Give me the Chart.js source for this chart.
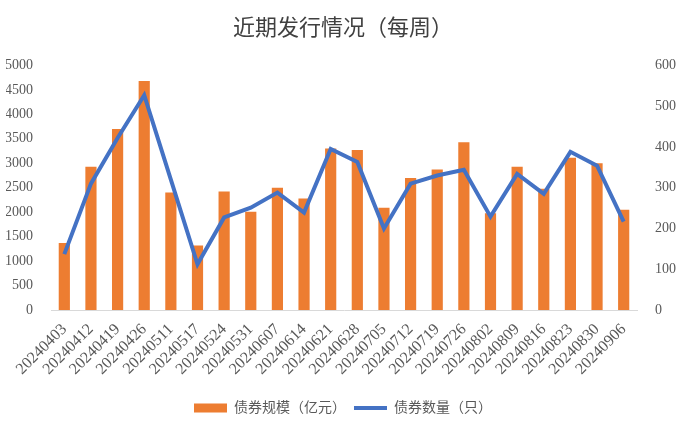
<!DOCTYPE html>
<html>
<head>
<meta charset="utf-8">
<script src="https://cdn.jsdelivr.net/npm/chart.js@4.4.1/dist/chart.umd.min.js"></script>
<style>
  html, body { margin: 0; padding: 0; background: #fff; }
  #wrap { width: 686px; height: 435px; }
</style>
</head>
<body>
<div id="wrap"><canvas id="mycanvas" width="686" height="435"></canvas></div>
<script>
var weeks = ["20240403","20240412","20240419","20240426","20240511","20240517","20240524","20240531",
  "20240607","20240614","20240621","20240628","20240705","20240712","20240719","20240726",
  "20240802","20240809","20240816","20240823","20240830","20240906"];
// 债券规模（亿元）
var scale = [1370, 2930, 3700, 4680, 2400, 1320, 2420, 2010, 2500, 2280, 3300,
  3270, 2090, 2700, 2870, 3430, 1980, 2930, 2480, 3110, 3000, 2050];
// 债券数量（只）
var count = [137, 310, 422, 527, 320, 112, 227, 251, 288, 239, 395,
  363, 200, 310, 330, 344, 229, 334, 285, 388, 354, 217];

var serif = "'Liberation Serif', 'Times New Roman', 'Noto Sans CJK SC', serif";
var grey = "#595959";

var ctx = document.getElementById("mycanvas");
var chart = new Chart(ctx, {
  type: 'bar',
  data: {
    labels: weeks,
    datasets: [
      {
        label: "债券规模（亿元）",
        data: scale,
        backgroundColor: "#ED7D31",
        borderWidth: 0,
        barPercentage: 0.42,
        categoryPercentage: 1.0,
        pointStyle: 'rect',
        yAxisID: 'y',
        order: 2
      },
      {
        type: 'line',
        label: "债券数量（只）",
        data: count,
        borderColor: "#4472C4",
        backgroundColor: "#4472C4",
        borderWidth: 4,
        pointRadius: 0,
        tension: 0,
        fill: false,
        pointStyle: 'line',
        yAxisID: 'y1',
        order: 1
      }
    ]
  },
  options: {
    responsive: false,
    animation: false,
    layout: { padding: { left: 6, right: 6, top: 6, bottom: 10 } },
    plugins: {
      title: {
        display: true,
        text: "近期发行情况（每周）",
        color: "#404040",
        font: { family: serif, size: 22, weight: 'normal' },
        padding: { top: 10, bottom: 23 }
      },
      legend: {
        position: 'bottom',
        labels: {
          usePointStyle: true,
          pointStyleWidth: 33,
          boxWidth: 33,
          boxHeight: 9,
          color: grey,
          padding: 8,
          font: { family: serif, size: 14 },
          sort: function(a, b) { return a.datasetIndex - b.datasetIndex; }
        }
      },
      tooltip: { enabled: false }
    },
    scales: {
      x: {
        grid: { display: false },
        border: { color: "#d9d9d9", width: 1 },
        afterFit: function(s) { s.height = 83; },
        ticks: {
          color: grey,
          font: { family: serif, size: 16 },
          minRotation: 45,
          maxRotation: 45,
          autoSkip: false,
          padding: 2
        }
      },
      y: {
        position: 'left',
        min: 0,
        max: 5000,
        grid: { display: false },
        border: { display: false },
        afterFit: function(s) { s.width = 45; },
        ticks: {
          stepSize: 500, color: grey, font: { family: serif, size: 14 }, padding: 10,
          callback: function(v) { return String(v); }
        }
      },
      y1: {
        position: 'right',
        min: 0,
        max: 600,
        grid: { display: false },
        border: { display: false },
        afterFit: function(s) { s.width = 43; },
        ticks: {
          stepSize: 100, color: grey, font: { family: serif, size: 14 }, padding: 10,
          callback: function(v) { return String(v); }
        }
      }
    }
  }
});
</script>
</body>
</html>
